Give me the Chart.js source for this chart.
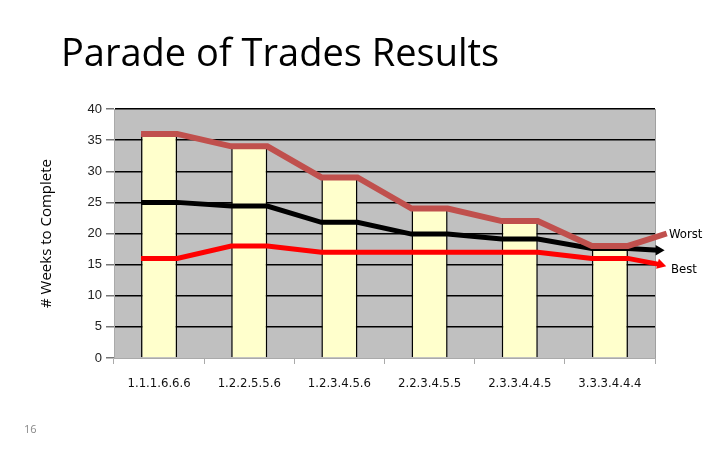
<!DOCTYPE html>
<html>
<head>
<meta charset="utf-8">
<script src="https://cdn.jsdelivr.net/npm/chart.js@4.4.1/dist/chart.umd.min.js"></script>
<style>
  html, body { margin: 0; padding: 0; background: #fff; }
  #wrap { position: relative; width: 720px; height: 450px; }
  #chart { position: absolute; left: 0; top: 0; }
  .txt { position: absolute; white-space: nowrap; color: #000; }
  #title { left: 61px; top: 32px; font: 38px "Open Sans", sans-serif; line-height: 1; }
  #page { left: 24px; top: 421px; font: 11px "Open Sans", sans-serif; color: #888; }
  .tag { font: 13px "DejaVu Sans Condensed", "DejaVu Sans", sans-serif; }
</style>
</head>
<body>
<div id="wrap">
  <canvas id="chart" width="720" height="450"></canvas>
  <div class="txt" id="title">Parade of Trades Results</div>
  <div class="txt tag" style="left:669px; top:226px;">Worst</div>
  <div class="txt tag" style="left:671px; top:261px;">Best</div>
  <div class="txt" id="page">16</div>
</div>
<script>
// --- Data ---
const categories = ["1.1.1.6.6.6", "1.2.2.5.5.6", "1.2.3.4.5.6", "2.2.3.4.5.5", "2.3.3.4.4.5", "3.3.3.4.4.4"];
const worstWeeks = [36, 34, 29, 24, 22, 18];
const avgWeeks = [25, 24.4, 21.8, 19.9, 19.1, 17.6];
const bestWeeks = [16, 18, 17, 17, 17, 16];
// where each trend arrow ends (weeks)
const worstTail = 20;
const avgTail = 17.3;
const bestTail = 15;
const yTicks = [0, 5, 10, 15, 20, 25, 30, 35, 40];

// --- Style constants ---
const BAR_HALF = 0.2; // half of bar width in category units
const WORST_COLOR = "#c0504d";
const AVG_COLOR = "#000000";
const BEST_COLOR = "#ff0000";

// line runs flat across each bar, then slopes to the next one
function stepPoints(values, tail, tailX) {
  const pts = [];
  values.forEach((v, i) => {
    pts.push({ x: i + 0.5 - BAR_HALF, y: v });
    pts.push({ x: i + 0.5 + BAR_HALF, y: v });
  });
  pts.push({ x: tailX, y: tail });
  return pts;
}

function lineSet(label, values, tail, tailX, color, width, rot) {
  const pts = stepPoints(values, tail, tailX);
  return {
    type: "line",
    label: label,
    xAxisID: "x2",
    data: pts,
    borderColor: color,
    backgroundColor: color,
    borderWidth: width,
    borderJoinStyle: "miter",
    tension: 0,
    clip: false,
    pointStyle: "triangle",
    pointRadius: pts.map((p, i) => (i === pts.length - 1 ? 6 : 0)),
    pointRotation: rot,
    pointBorderWidth: 0,
    pointHoverRadius: 0,
    order: 0,
  };
}

// --- Plot background ---
const plotBg = {
  id: "plotBg",
  beforeDraw(chart) {
    const { ctx, chartArea: a } = chart;
    ctx.save();
    ctx.fillStyle = "#c0c0c0";
    ctx.fillRect(a.left, a.top, a.right - a.left, a.bottom - a.top);
    ctx.strokeStyle = "#a0a0a0";
    ctx.lineWidth = 1;
    ctx.beginPath();
    ctx.moveTo(a.right + 0.5, a.top);
    ctx.lineTo(a.right + 0.5, a.bottom);
    ctx.stroke();
    ctx.restore();
  },
};

const ctx = document.getElementById("chart").getContext("2d");
new Chart(ctx, {
  data: {
    labels: categories,
    datasets: [
      {
        type: "bar",
        label: "Worst",
        data: worstWeeks,
        backgroundColor: "#ffffcc",
        borderColor: "#000",
        borderWidth: 1.5,
        grouped: false,
        barPercentage: 2 * BAR_HALF,
        categoryPercentage: 1,
        order: 1,
      },
      lineSet("Worst", worstWeeks, worstTail, 6.13, WORST_COLOR, 6, 72),
      lineSet("Average", avgWeeks, avgTail, 6.04, AVG_COLOR, 5, 90),
      lineSet("Best", bestWeeks, bestTail, 6.06, BEST_COLOR, 5, 105),
    ],
  },
  options: {
    responsive: false,
    animation: false,
    layout: { padding: { top: 109, right: 65, left: 0, bottom: 0 } },
    plugins: {
      legend: { display: false },
      tooltip: { enabled: false },
    },
    scales: {
      x: {
        type: "category",
        offset: true,
        afterFit: (s) => { s.height = 92; },
        grid: {
          offset: true,
          drawOnChartArea: false,
          tickLength: 6,
          tickColor: "#aaaaaa",
        },
        border: { color: "#aaaaaa", width: 1 },
        ticks: {
          color: "#111",
          padding: 12,
          font: { family: "DejaVu Sans Condensed", size: 13 },
        },
      },
      x2: {
        type: "linear",
        display: false,
        min: 0,
        max: 6,
      },
      y: {
        min: 0,
        max: 40,
        afterFit: (s) => { s.width = 114; },
        afterBuildTicks: (s) => { s.ticks = yTicks.map((v) => ({ value: v })); },
        grid: {
          color: (c) => (c.tick && c.tick.value === 0 ? "rgba(0,0,0,0)" : "#000"),
          lineWidth: 1.5,
          tickLength: 8,
          tickColor: "#777",
        },
        border: { color: "#aaaaaa", width: 1 },
        ticks: {
          color: "#222",
          padding: 4,
          font: { family: "Liberation Sans", size: 13 },
        },
        title: {
          display: true,
          text: "# Weeks to Complete",
          color: "#000",
          padding: { top: 38, bottom: 0 },
          font: { family: "Open Sans", size: 15 },
        },
      },
    },
  },
  plugins: [plotBg],
});
</script>
</body>
</html>
